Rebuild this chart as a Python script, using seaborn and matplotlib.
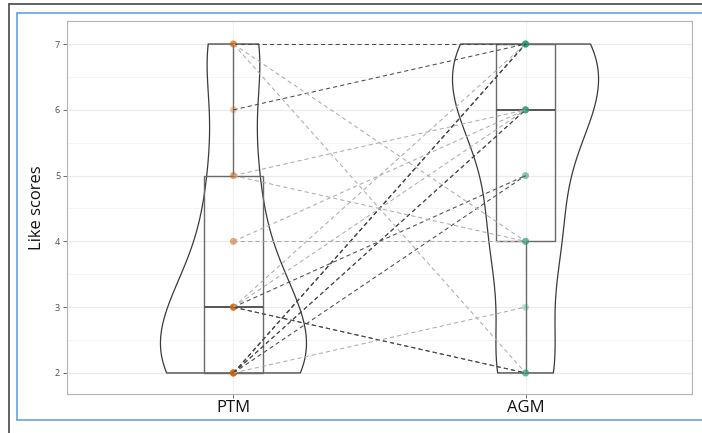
import matplotlib
matplotlib.use("Agg")
import matplotlib.pyplot as plt
from matplotlib.lines import Line2D
import pandas as pd
import seaborn as sns

# Data: one paired (PTM, AGM) like score per participant

CONDITIONS = ["PTM", "AGM"]
ptm_scores = [7, 7, 7, 6, 5, 5, 4, 4, 3, 3, 3, 3, 3, 2, 2, 2, 2, 2, 2, 2]
agm_scores = [7, 4, 2, 7, 6, 4, 4, 6, 7, 6, 5, 2, 2, 7, 7, 7, 6, 6, 5, 3]
line_shade = ["dark", "light", "light", "dark", "light", "light", "light", "light",
              "light", "light", "dark", "dark", "dark", "dark", "dark", "dark",
              "dark", "dark", "dark", "light"]
y_ticks = [2, 3, 4, 5, 6, 7]
y_minor = [2.5, 3.5, 4.5, 5.5, 6.5]

POINT_COLORS = {"PTM": "#d95f02", "AGM": "#1b9e77"}
SHADE_COLORS = {"dark": "#4a4a4a", "light": "#acacac"}

W, H = 702, 433


def main():
    n = len(ptm_scores)
    df = pd.DataFrame({
        "id": list(range(n)) * 2,
        "condition": ["PTM"] * n + ["AGM"] * n,
        "score": ptm_scores + agm_scores,
        "shade": line_shade * 2,
    })
    df["pos"] = df["condition"].map({c: i for i, c in enumerate(CONDITIONS)})

    sns.set_style("white")
    plt.rcParams["font.family"] = ["Open Sans", "DejaVu Sans"]

    fig = plt.figure(figsize=(W / 100, H / 100), dpi=100)
    ax = fig.add_axes([67 / W, 1 - 394 / H, (692 - 67) / W, (394 - 21) / H])

    # Violins and boxes

    sns.violinplot(
        data=df, x="condition", y="score", order=CONDITIONS,
        cut=0, density_norm="width", width=0.5, inner=None, fill=False,
        color="#3a3a3a", linewidth=0.9, bw_adjust=0.8, ax=ax
    )
    sns.boxplot(
        data=df, x="condition", y="score", order=CONDITIONS,
        width=0.2, fill=False, color="#6a6a6a", linewidth=1.0,
        showcaps=False, showfliers=False,
        medianprops={"linewidth": 1.4, "color": "#555555"}, ax=ax
    )

    # Points

    sns.stripplot(
        data=df, x="condition", y="score", order=CONDITIONS,
        hue="condition", palette=POINT_COLORS, jitter=False,
        size=5, alpha=0.33, linewidth=0, legend=False, zorder=3, ax=ax
    )

    # Paired lines

    sns.lineplot(
        data=df, x="pos", y="score", units="id", estimator=None,
        hue="shade", palette=SHADE_COLORS, legend=False, sort=False,
        linewidth=0.75, linestyle=(0, (4, 3)), zorder=4, ax=ax
    )

    ax.set_xlim(-0.57, 1.57)
    ax.set_ylim(1.68, 7.35)
    ax.set_xticks([0, 1])
    ax.set_xticklabels(CONDITIONS)
    ax.set_yticks(y_ticks)
    ax.set_yticks(y_minor, minor=True)

    ax.set_axisbelow(True)
    ax.yaxis.grid(True, which="major", color="#ebebeb", linewidth=0.9)
    ax.yaxis.grid(True, which="minor", color="#f3f3f3", linewidth=0.6)
    ax.xaxis.grid(True, which="major", color="#f0f0f0", linewidth=0.8)

    for spine in ax.spines.values():
        spine.set_color("#b3b3b3")
        spine.set_linewidth(0.8)

    ax.tick_params(axis="y", which="major", labelsize=6.5, labelcolor="#4d4d4d",
                   length=3, width=0.6, color="#555555", left=True, pad=2)
    ax.tick_params(axis="y", which="minor", length=0)
    ax.tick_params(axis="x", labelsize=12, labelcolor="#111111",
                   length=3, width=0.6, color="#555555", bottom=True, pad=1)

    ax.set_xlabel("")
    ax.set_ylabel("Like scores", fontsize=12, color="#111111", labelpad=7)

    # Screenshot frame

    fig.add_artist(Line2D([9 / W, 1], [1 - 4 / H] * 2, color="#555555", lw=1.3))
    fig.add_artist(Line2D([9 / W] * 2, [0, 1 - 4 / H], color="#555555", lw=1.3))
    blue = "#5b9bd5"
    fig.add_artist(Line2D([17 / W, 1], [1 - 13 / H] * 2, color=blue, lw=1.1))
    fig.add_artist(Line2D([17 / W] * 2, [1 - 420 / H, 1 - 13 / H], color=blue, lw=1.1))
    fig.add_artist(Line2D([17 / W, 1], [1 - 420 / H] * 2, color=blue, lw=1.1))

    fig.savefig("out.png", dpi=100)
    plt.close(fig)


if __name__ == "__main__":
    main()
